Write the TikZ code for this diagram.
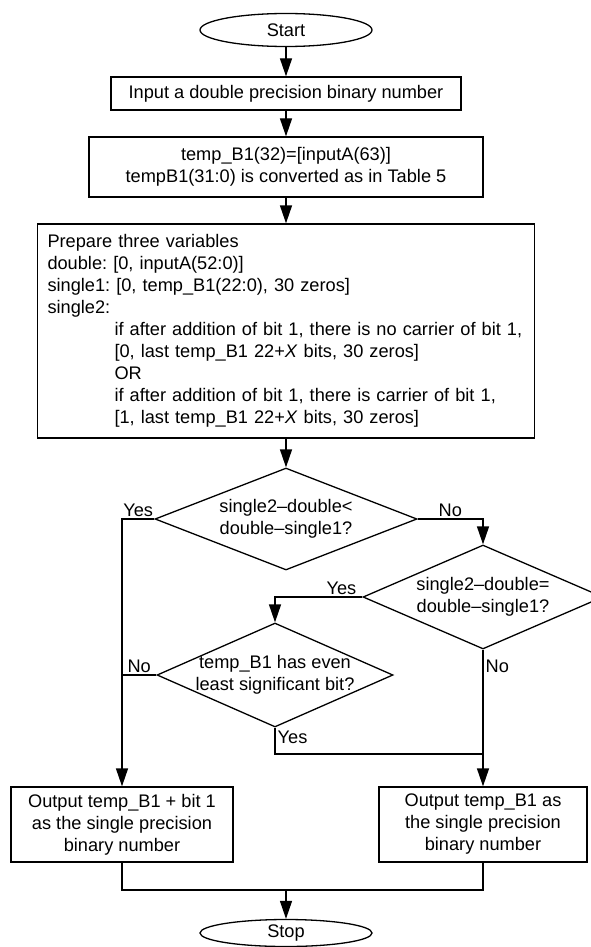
\documentclass[tikz,border=0pt]{standalone}
\usepackage{fontspec}
\setmainfont{Liberation Sans}
\frenchspacing
\usetikzlibrary{arrows.meta, positioning, calc, shapes.geometric}

\begin{document}
\begin{tikzpicture}[x=1pt, y=-1pt, line width=1.3pt,
    font=\fontsize{18.2}{22}\selectfont,
    box/.style={draw, rectangle, inner sep=0pt, align=center},
    term/.style={draw, ellipse, minimum width=172pt, minimum height=33pt, inner sep=0pt},
    decision/.style={draw, diamond, inner sep=0pt},
    qtext/.style={align=center, inner sep=0pt},
    lbl/.style={inner sep=2pt},
    arr/.style={-{Triangle[length=18pt, width=12pt]}}]
    \useasboundingbox (0,0) rectangle (590,947);
    % main chain
    \node[term] (start) at (286,30) {Start};
    \node[box, minimum width=350pt, minimum height=33pt] (input) at (286,93.5)
        {Input a double precision binary number};
    \node[box, minimum width=394pt, minimum height=60pt] (conv) at (286,167)
        {temp\_B1(32)=[inputA(63)]\\tempB1(31:0) is converted as in Table 5};
    \node[box, minimum height=214pt, inner xsep=10pt, text width=477pt, align=left] (prep) at (286,331)
        {Prepare three variables\\
         double: [0, inputA(52:0)]\\
         single1: [0, temp\_B1(22:0), 30 zeros]\\
         single2:\\
         \hspace*{67pt}if after addition of bit 1, there is no carrier of bit 1,\\
         \hspace*{67pt}[0, last temp\_B1 22+\textit{X} bits, 30 zeros]\\
         \hspace*{67pt}OR\\
         \hspace*{67pt}if after addition of bit 1, there is carrier of bit 1,\\
         \hspace*{67pt}[1, last temp\_B1 22+\textit{X} bits, 30 zeros]};
    % decisions
    \node[decision, minimum width=262pt, minimum height=102pt] (q1) at (286,519) {};
    \node[qtext] (q1t) at (q1) {single2–double<\\double–single1?};
    \node[decision, minimum width=240pt, minimum height=104pt] (q2) at (483,597) {};
    \node[qtext] (q2t) at (q2) {single2–double=\\double–single1?};
    \node[decision, minimum width=236pt, minimum height=104pt] (q3) at (275,675) {};
    \node[qtext] (q3t) at (q3) {temp\_B1 has even\\least significant bit?};
    % outputs
    \node[box, minimum width=222pt, minimum height=75pt] (out1) at (122,824.5)
        {Output temp\_B1 + bit 1\\as the single precision\\binary number};
    \node[box, minimum width=208pt, minimum height=75pt] (out2) at (483,824.5)
        {Output temp\_B1 as\\the single precision\\binary number};
    \node[term, minimum height=27pt] (stop) at (286,933) {Stop};
    \coordinate (j1) at (483,754);
    \coordinate (j2) at (286,890);

    \draw[arr] (start) -- (input);
    \draw[arr] (input) -- (conv);
    \draw[arr] (conv) -- (prep);
    \draw[arr] (prep) -- (q1);
    \draw[arr] (q1.west) -| node[lbl, above, pos=0.25] (yes1) {Yes} (out1.north);
    \draw[arr] (q1.east) -| node[lbl, above, pos=0.25] (no1) {No} (q2.north);
    \draw[arr] (q2.west) -| node[lbl, above, pos=0.12] (yes2) {Yes} (q3.north);
    \draw[arr] (q2.south) -- node[lbl, right, pos=0.12] (no2) {No} (out2.north);
    \draw (q3.west) -- node[lbl, above] (no3) {No} (q3.west -| out1.north);
    \draw (q3.south) |- node[lbl, right, pos=0.19] (yes3) {Yes} (j1);
    \draw (out1.south) -- (out1.south |- j2) -- (out2.south |- j2) -- (out2.south);
    \draw[arr] (j2) -- (stop);
\end{tikzpicture}
\end{document}
